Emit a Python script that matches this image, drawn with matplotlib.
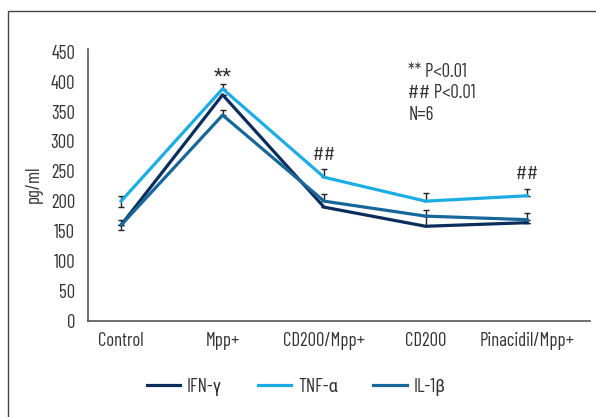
import numpy as np
import matplotlib
matplotlib.use("Agg")
import matplotlib.pyplot as plt
from matplotlib.patches import Rectangle

plt.rcParams['font.family'] = ['Barlow Condensed', 'Roboto Condensed', 'DejaVu Sans']

# data
groups = ['Control', 'Mpp+', 'CD200/Mpp+', 'CD200', 'Pinacidil/Mpp+']
ifn = [160, 378, 190, 158, 164]
tnf = [200, 388, 240, 200, 209]
il1b = [160, 344, 200, 175, 169]

# error bars (lower, upper)
ifn_err_lo = [8, 0, 0, 0, 0]
ifn_err_up = [8, 0, 0, 27, 0]
tnf_err_lo = [9, 0, 0, 0, 0]
tnf_err_up = [9, 8, 13, 13, 11]
il1b_err_lo = [0, 0, 0, 0, 0]
il1b_err_up = [0, 9, 12, 0, 12]

marks = ['', '**', '##', '', '##']
stats_lines = ['** P<0.01', '## P<0.01', 'N=6']

txt = '#333333'
c_ifn = '#0b2d5b'
c_tnf = '#1cace4'
c_il = '#17679a'
fs = 13.5

fig = plt.figure(figsize=(5.96, 4.17), dpi=100)
ax = fig.add_axes([0.147, 0.231, 0.843, 0.652])

x = np.arange(len(groups))

# error bars first (below lines)
for vals, lo, up in [(ifn, ifn_err_lo, ifn_err_up),
                     (tnf, tnf_err_lo, tnf_err_up),
                     (il1b, il1b_err_lo, il1b_err_up)]:
    ax.errorbar(x, vals, yerr=[lo, up], fmt='none', ecolor='#222222',
                elinewidth=1, capsize=2.3, capthick=1, zorder=1)

ax.plot(x, ifn, color=c_ifn, lw=2.3, label='IFN-γ', zorder=3)
ax.plot(x, tnf, color=c_tnf, lw=2.3, label='TNF-α', zorder=3)
ax.plot(x, il1b, color=c_il, lw=2.3, label='IL-1β', zorder=3)

# significance marks above the groups
mark_y = [0, 408, 277, 0, 245]
for xi, m, my in zip(x, marks, mark_y):
    if m == '**':
        ax.text(xi, my, m, ha='center', va='center', fontsize=15, color=txt,
                family=['Roboto Condensed', 'DejaVu Sans'])
    elif m:
        ax.text(xi, my, m, ha='center', va='center', fontsize=fs, color=txt)

for i, s in enumerate(stats_lines):
    ax.text(2.83, 416 - i * 35.5, s, ha='left', va='center', fontsize=fs, color=txt)

ax.set_xlim(-0.33, 4.62)
ax.set_ylim(0, 455)
ax.set_yticks(np.arange(0, 451, 50))
ax.set_xticks(x)
ax.set_xticklabels(groups)
ax.tick_params(length=0, labelsize=fs, colors=txt)
ax.tick_params(axis='y', pad=9)
ax.tick_params(axis='x', pad=8)
ax.set_ylabel('pg/ml', fontsize=fs, color=txt, labelpad=6)

for s in ['top', 'right']:
    ax.spines[s].set_visible(False)
for s in ['left', 'bottom']:
    ax.spines[s].set_color('#555555')
    ax.spines[s].set_linewidth(1.2)

leg = fig.legend(loc='center', bbox_to_anchor=(0.497, 0.072), ncol=3, frameon=False,
                 fontsize=fs, handlelength=1.8, columnspacing=1.9, handletextpad=0.35)
for t in leg.get_texts():
    t.set_color(txt)

# outer frame
fig.patches.append(Rectangle((8 / 596, -0.05), 1.2, (417 - 11) / 417 + 0.05,
                             transform=fig.transFigure, fill=False,
                             edgecolor='#444444', lw=1.0))

fig.savefig('out.png', dpi=100)
